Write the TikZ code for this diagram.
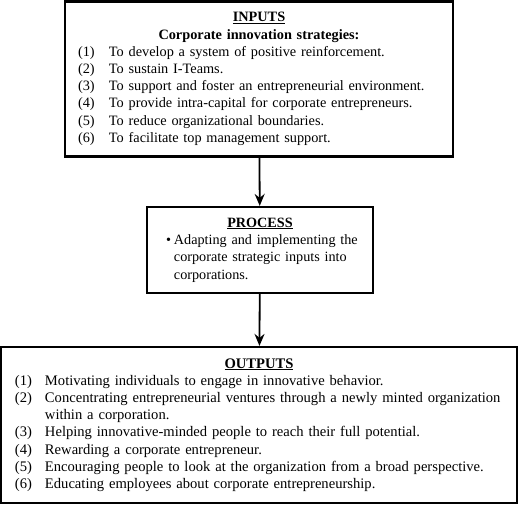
\documentclass[tikz,border=0pt]{standalone}
\usepackage{fontspec}
\setmainfont{Liberation Serif}
\usetikzlibrary{arrows.meta}
\newlength{\itmwd}
\setlength{\itmwd}{31pt}
\newcommand{\itm}[2]{\par\hangindent=\itmwd\hangafter=1\noindent\makebox[\itmwd][l]{(#1)}#2}
\newcommand{\boxtitle}[1]{{\centering\textbf{\underline{#1}}\par}}
\tikzset{
  box/.style={draw, line width=2.2pt, rectangle, inner sep=0pt, align=left,
    font=\fontsize{14.6}{17.2}\selectfont},
  flow/.style={-{Stealth[length=12pt,width=10pt,inset=4pt]}, line width=1.8pt}
}
\begin{document}
\begin{tikzpicture}[x=1pt, y=-1pt]
         \useasboundingbox (0,0) rectangle (520,505);
         %nodes
         \node[box, font=\fontsize{14.3}{17.2}\selectfont, minimum width=388pt, minimum height=155pt,
               text width=362pt] at (259,79) (inputs) {%
           \boxtitle{INPUTS}
           {\centering\textbf{Corporate innovation strategies:}\par}
           \itm{1}{To develop a system of positive reinforcement.}
           \itm{2}{To sustain I-Teams.}
           \itm{3}{\mbox{To support and foster an entrepreneurial environment.}}
           \itm{4}{To provide intra-capital for corporate entrepreneurs.}
           \itm{5}{To reduce organizational boundaries.}
           \itm{6}{To facilitate top management support.}\par};
         \node[box, font=\fontsize{14.2}{17.4}\selectfont, minimum width=226pt, minimum height=86pt,
               text width=188pt] at (260,250) (process) {%
           \boxtitle{PROCESS}
           \setbox0\hbox{\textbullet\kern3pt}\hangindent=\wd0\hangafter=1\noindent
           \mbox{\textbullet\kern3pt Adapting and implementing the}\newline
           \mbox{corporate strategic inputs into}\newline corporations.\par};
         \node[box, minimum width=516pt, minimum height=156pt, text width=488pt] at (259,425) (outputs) {%
           \setlength{\itmwd}{30pt}%
           \boxtitle{OUTPUTS}
           \itm{1}{Motivating individuals to engage in innovative behavior.}
           \itm{2}{\mbox{Concentrating entrepreneurial ventures through a newly minted organization}\newline within a corporation.}
           \itm{3}{Helping innovative-minded people to reach their full potential.}
           \itm{4}{Rewarding a corporate entrepreneur.}
           \itm{5}{\mbox{Encouraging people to look at the organization from a broad perspective.}}
           \itm{6}{Educating employees about corporate entrepreneurship.}\par};
         % arrows between nodes
         \draw[flow] (inputs) -- (process);
         \draw[flow] (process) -- (outputs);
\end{tikzpicture}
\end{document}
